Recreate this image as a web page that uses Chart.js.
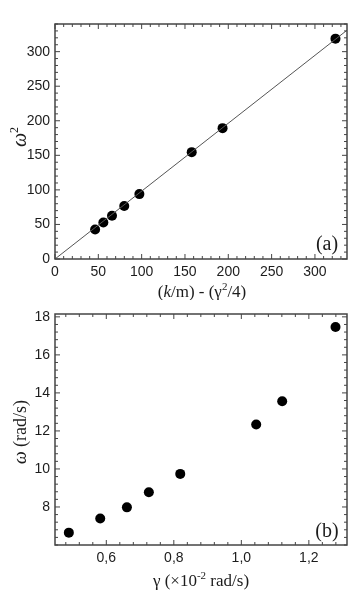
<!DOCTYPE html>
<html><head><meta charset="utf-8">
<script src="https://cdn.jsdelivr.net/npm/chart.js@4/dist/chart.umd.min.js"></script>
<style>
html,body{margin:0;padding:0;background:#fff;width:352px;height:590px;overflow:hidden}
canvas{position:absolute;left:0}
#c1{top:0}
#c2{top:300px}
</style></head><body>
<canvas id="c1" width="352" height="300"></canvas>
<canvas id="c2" width="352" height="290"></canvas>
<script>
// ---- Panel (a): omega^2 vs (k/m) - (gamma^2/4)
const aX = [46.3, 55.8, 65.8, 79.9, 97.4, 157.8, 193.4, 323.7];
const aY = [42.8, 52.9, 62.6, 76.6, 93.9, 154.6, 189.3, 318.8];
const fitX = [0, 337];
const fitY = [0, 331];
const aXTicks = [0, 50, 100, 150, 200, 250, 300];
const aYTicks = [0, 50, 100, 150, 200, 250, 300];
// ---- Panel (b): omega vs gamma
const bX = [0.489, 0.582, 0.661, 0.726, 0.819, 1.044, 1.121, 1.279];
const bY = [6.65, 7.39, 7.98, 8.77, 9.74, 12.34, 13.56, 17.47];
const bXTicks = [0.6, 0.8, 1.0, 1.2];
const bYTicks = [8, 10, 12, 14, 16, 18];

const TXT = '#1c1c1c';
const FRAME = '#444';
const SERIF = '"Liberation Serif", "DejaVu Serif", serif';
const SANS = '"Liberation Sans", Arial, sans-serif';

function rich(ctx, segs, cx, cy, rot, size) {
  ctx.save();
  ctx.translate(cx, cy);
  if (rot) ctx.rotate(rot);
  const fnt = s => (s.i ? 'italic ' : '') + Math.round(s.sup ? size * 0.62 : size) + 'px ' + SERIF;
  let w = 0;
  segs.forEach(s => { ctx.font = fnt(s); s.w = ctx.measureText(s.t).width; w += s.w; });
  let x = -w / 2;
  ctx.textBaseline = 'alphabetic';
  ctx.textAlign = 'left';
  ctx.fillStyle = TXT;
  segs.forEach(s => {
    ctx.font = fnt(s);
    ctx.fillText(s.t, x, s.sup ? size * 0.35 - size * 0.42 : size * 0.35);
    x += s.w;
  });
  ctx.restore();
}

function minorVals(major, n, min, max) {
  const step = (major[1] - major[0]) / (n + 1);
  const out = [];
  for (let v = major[0]; v >= min - 1e-9; v -= step) out.push(v);
  for (let v = major[0] + step; v <= max + 1e-9; v += step) out.push(v);
  return out;
}

function framePlugin(cfg) {
  return {
    id: 'frame' + cfg.id,
    afterDatasetsDraw(chart) {
      const ctx = chart.ctx, a = chart.chartArea, xs = chart.scales.x, ys = chart.scales.y;
      ctx.save();
      ctx.strokeStyle = FRAME;
      ctx.lineWidth = 1;
      const seg = (x1, y1, x2, y2) => { ctx.beginPath(); ctx.moveTo(x1, y1); ctx.lineTo(x2, y2); ctx.stroke(); };
      const xm = minorVals(cfg.xMajor, cfg.xMinorN, xs.min, xs.max);
      const ym = minorVals(cfg.yMajor, cfg.yMinorN, ys.min, ys.max);
      xm.forEach(v => {
        const p = xs.getPixelForValue(v);
        const len = cfg.xMajor.some(m => Math.abs(m - v) < 1e-6) ? 5 : 3;
        seg(p, a.bottom, p, a.bottom - len); seg(p, a.top, p, a.top + len);
      });
      ym.forEach(v => {
        const p = ys.getPixelForValue(v);
        const len = cfg.yMajor.some(m => Math.abs(m - v) < 1e-6) ? 5 : 3;
        seg(a.left, p, a.left + len, p); seg(a.right, p, a.right - len, p);
      });
      ctx.lineWidth = 1.5;
      ctx.strokeRect(a.left, a.top, a.right - a.left, a.bottom - a.top);
      ctx.restore();
      cfg.draw(ctx, chart);
    }
  };
}

function scaleOpts(min, max, ticks, fmt, axisSize, isX, pad) {
  return {
    type: 'linear',
    min: min, max: max,
    grid: { display: false, drawTicks: false },
    border: { display: false },
    afterBuildTicks: s => { s.ticks = ticks.map(v => ({ value: v })); },
    afterFit: s => { if (isX) s.height = axisSize; else s.width = axisSize; },
    ticks: {
      autoSkip: false, maxRotation: 0, padding: pad,
      color: TXT,
      font: { family: SANS, size: 14 },
      callback: v => fmt(v)
    }
  };
}

function pts(xs, ys) { return xs.map((x, i) => ({ x: x, y: ys[i] })); }

const common = {
  responsive: false,
  animation: false,
  events: [],
  plugins: { legend: { display: false }, tooltip: { enabled: false } }
};

new Chart(document.getElementById('c1'), {
  type: 'scatter',
  data: {
    datasets: [
      { type: 'line', data: pts(fitX, fitY), borderColor: '#555', borderWidth: 1, pointRadius: 0, fill: false },
      { data: pts(aX, aY), backgroundColor: '#000', borderColor: '#000', pointRadius: 5, borderWidth: 0 }
    ]
  },
  options: Object.assign({}, common, {
    layout: { padding: { top: 24, right: 3, left: 0, bottom: 0 } },
    scales: {
      x: scaleOpts(0, 337, aXTicks, v => String(v), 41, true, 5),
      y: scaleOpts(0, 340, aYTicks, v => String(v), 55, false, 5)
    }
  }),
  plugins: [framePlugin({
    id: 'a', xMajor: aXTicks, yMajor: aYTicks, xMinorN: 4, yMinorN: 4,
    draw(ctx, chart) {
      rich(ctx, [{ t: '(' }, { t: 'k', i: true }, { t: '/m) - (γ' }, { t: '2', sup: true }, { t: '/4)' }], 202, 291, 0, 17);
      rich(ctx, [{ t: 'ω', i: true }, { t: '2', sup: true }], 19, 137, -Math.PI / 2, 20);
      rich(ctx, [{ t: '(a)' }], 327, 243, 0, 20);
    }
  })]
});

new Chart(document.getElementById('c2'), {
  type: 'scatter',
  data: {
    datasets: [
      { data: pts(bX, bY), backgroundColor: '#000', borderColor: '#000', pointRadius: 5, borderWidth: 0 }
    ]
  },
  options: Object.assign({}, common, {
    layout: { padding: { top: 14, right: 3, left: 0, bottom: 0 } },
    scales: {
      x: scaleOpts(0.448, 1.313, bXTicks, v => v.toFixed(1).replace('.', ','), 45, true, 5),
      y: scaleOpts(6.0, 18.15, bYTicks, v => String(v), 55, false, 5)
    }
  }),
  plugins: [framePlugin({
    id: 'b', xMajor: bXTicks, yMajor: bYTicks, xMinorN: 4, yMinorN: 4,
    draw(ctx, chart) {
      rich(ctx, [{ t: 'γ (×10' }, { t: '-2', sup: true }, { t: ' rad/s)' }], 201, 280, 0, 17);
      rich(ctx, [{ t: 'ω', i: true }, { t: ' (rad/s)' }], 20, 132, -Math.PI / 2, 18);
      rich(ctx, [{ t: '(b)' }], 327, 230, 0, 20);
    }
  })]
});
</script>
</body></html>
